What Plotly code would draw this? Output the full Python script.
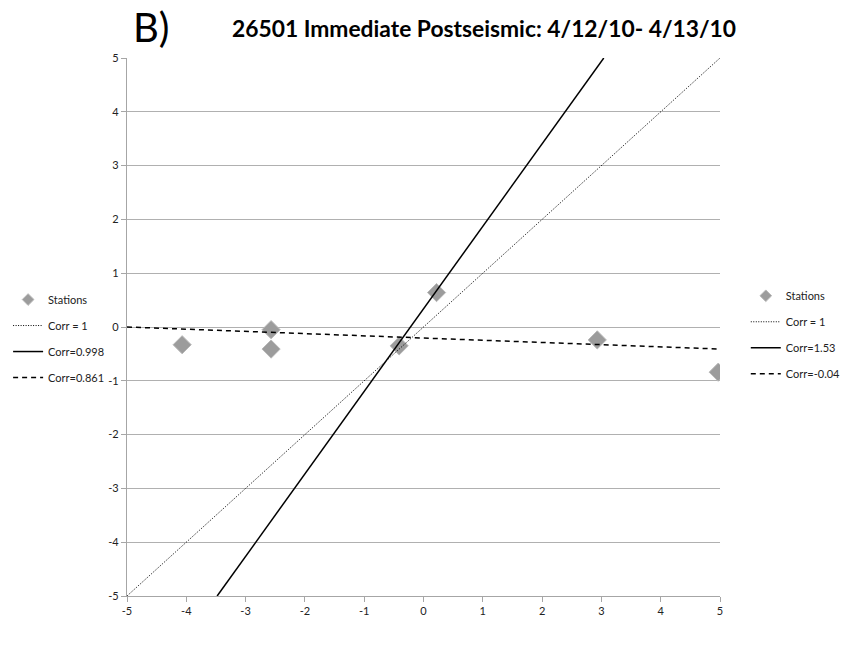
import plotly.graph_objects as go

# Station data
station_x = [-4.07, -2.57, -2.57, -0.41, 0.22, 2.93, 4.97]
station_y = [-0.33, -0.05, -0.41, -0.35, 0.64, -0.24, -0.84]

# Reference / fit lines (endpoints)
corr1_x = [-5, 5]
corr1_y = [-5, 5]
fit_x = [-3.48, 3.04]
fit_y = [-5, 5]
flat_x = [-5, 5]
flat_y = [0.0, -0.41]

# Legend names
legend_right = ["Stations", "Corr = 1", "Corr=1.53", "Corr=-0.04"]
legend_left = ["Stations", "Corr = 1", "Corr=0.998", "Corr=0.861"]

ticks = [-5, -4, -3, -2, -1, 0, 1, 2, 3, 4, 5]
tick_labels = ["-5", "-4", "-3", "-2", "-1", "0", "1", "2", "3", "4", "5"]

FONT = "Lato, 'Open Sans', sans-serif"
MARKER_COLOR = "#9c9c9c"
MARKER_LINE = dict(color="#b8b8b8", width=1)

fig = go.Figure()

# actual station markers (legend entry drawn by a smaller proxy)
fig.add_trace(go.Scatter(
    x=station_x, y=station_y, mode="markers", name=legend_right[0],
    marker=dict(symbol="diamond", size=14, color=MARKER_COLOR, line=MARKER_LINE),
    showlegend=False))

fig.add_trace(go.Scatter(
    x=[None], y=[None], mode="markers", name=legend_right[0],
    marker=dict(symbol="diamond", size=9, color=MARKER_COLOR, line=MARKER_LINE),
    legend="legend", legendgroup="a"))
fig.add_trace(go.Scatter(
    x=corr1_x, y=corr1_y, mode="lines", name=legend_right[1],
    line=dict(color="black", width=1, dash="1px,1.5px"),
    legend="legend", legendgroup="b"))
fig.add_trace(go.Scatter(
    x=fit_x, y=fit_y, mode="lines", name=legend_right[2],
    line=dict(color="black", width=1.5),
    legend="legend", legendgroup="c"))
fig.add_trace(go.Scatter(
    x=flat_x, y=flat_y, mode="lines", name=legend_right[3],
    line=dict(color="black", width=1.5, dash="5px,4px"),
    legend="legend", legendgroup="d"))

# Left legend entries (from companion chart) - no visible data
fig.add_trace(go.Scatter(
    x=[None], y=[None], mode="markers", name=legend_left[0],
    marker=dict(symbol="diamond", size=9, color=MARKER_COLOR, line=MARKER_LINE),
    legend="legend2", legendgroup="e"))
fig.add_trace(go.Scatter(
    x=[None], y=[None], mode="lines", name=legend_left[1],
    line=dict(color="black", width=1, dash="1px,1.5px"),
    legend="legend2", legendgroup="f"))
fig.add_trace(go.Scatter(
    x=[None], y=[None], mode="lines", name=legend_left[2],
    line=dict(color="black", width=1.5),
    legend="legend2", legendgroup="g"))
fig.add_trace(go.Scatter(
    x=[None], y=[None], mode="lines", name=legend_left[3],
    line=dict(color="black", width=1.5, dash="5px,4px"),
    legend="legend2", legendgroup="h"))

legend_common = dict(
    font=dict(family=FONT, size=11, color="#222"),
    bgcolor="rgba(0,0,0,0)", borderwidth=0,
    tracegroupgap=7,
    xanchor="left", yanchor="top", traceorder="grouped",
)

axis_common = dict(
    range=[-5, 5], tickvals=ticks, ticktext=tick_labels, zeroline=False,
    showline=True, linecolor="#a6a6a6", linewidth=1.3,
    ticks="outside", ticklen=5, tickcolor="#a6a6a6",
    tickfont=dict(family=FONT, size=11, color="#222"),
)

fig.update_layout(
    width=866, height=645,
    margin=dict(l=127, r=146, t=58, b=49, autoexpand=False),
    paper_bgcolor="white", plot_bgcolor="white",
    font=dict(family=FONT, size=11, color="#222"),
    showlegend=True,
    legend=dict(x=1.0435, y=0.585, **legend_common),
    legend2=dict(x=-0.2005, y=0.578, **legend_common),
    xaxis=dict(showgrid=False, **axis_common),
    yaxis=dict(showgrid=True, gridcolor="#b0b0b0", gridwidth=1.3, **axis_common),
)

fig.add_annotation(text="B)", xref="paper", yref="paper",
                   x=(131 - 127) / 593, y=(596 - 1) / 538,
                   xanchor="left", yanchor="top", showarrow=False,
                   font=dict(family=FONT, size=40, color="black"))
fig.add_annotation(text="<b>26501 Immediate Postseismic: 4/12/10- 4/13/10</b>",
                   xref="paper", yref="paper",
                   x=(230 - 127) / 593, y=(596 - 12) / 538,
                   xanchor="left", yanchor="top", showarrow=False,
                   font=dict(family=FONT, size=22.8, color="black"))

fig.write_html("out.html")
